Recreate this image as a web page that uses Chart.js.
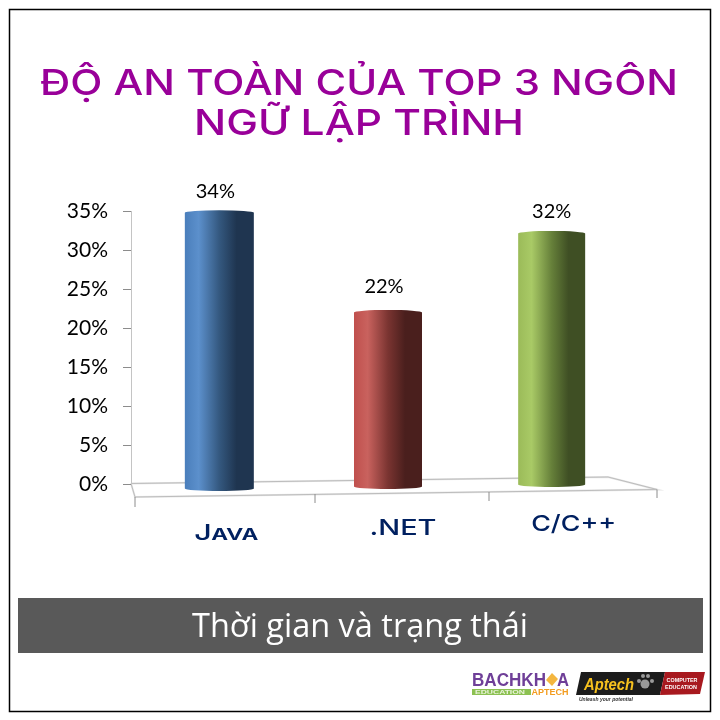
<!DOCTYPE html>
<html>
<head>
<meta charset="utf-8">
<script src="https://cdn.jsdelivr.net/npm/chart.js@4"></script>
<style>
  html, body { margin: 0; padding: 0; background: #fff; }
  canvas { display: block; }
</style>
</head>
<body>
<canvas id="chart" width="720" height="720"></canvas>
<script>
// Chart data
const categories = ["Java", ".NET", "C/C++"];
const safetyValues = [34, 22, 32];
const yTicks = [0, 5, 10, 15, 20, 25, 30, 35];
const titleLines = ["ĐỘ AN TOÀN CỦA TOP 3 NGÔN", "NGỮ LẬP TRÌNH"];
const bandText = "Thời gian và trạng thái";

// Perspective of the original 3D chart: how far each bar sits from its flat position
const barShiftX = [0, -8, -21];
const barShiftTop = [-6, 0, -1];
const barShiftBase = [5, 3, 1];
const barWidths = [69, 68, 67];
const valueLabelDx = [-4, -4, 0];
const valueLabelDy = [15, 19, 15];
const labelShiftX = [7, 7, 1];
const labelBaseline = [540, 535, 531];
const labelWidths = [64, 67, 85];
const barStops = [
    ["#4a7ebb", "#5c90cc", "#34587f", "#1f3550"],
    ["#c0504d", "#c9625e", "#7a3431", "#4a1f1d"],
    ["#9bbb59", "#a9ca66", "#66803a", "#3f4f24"]
];

function barGradient(ctx, center, width, stops) {
    const g = ctx.createLinearGradient(center - width / 2, 0, center + width / 2, 0);
    g.addColorStop(0, stops[0]);
    g.addColorStop(0.2, stops[1]);
    g.addColorStop(0.5, stops[2]);
    g.addColorStop(0.75, stops[3]);
    g.addColorStop(1, stops[3]);
    return g;
}

// Draw a line of text squeezed or stretched to an exact width
function stretchText(ctx, text, cx, baseline, width, font, color) {
    ctx.save();
    ctx.font = font;
    ctx.fillStyle = color;
    ctx.textAlign = "center";
    ctx.textBaseline = "alphabetic";
    const sx = width / ctx.measureText(text).width;
    ctx.translate(cx, baseline);
    ctx.scale(sx, 1);
    ctx.fillText(text, 0, 0);
    ctx.restore();
}

function drawLine(ctx, pts, color, lineWidth) {
    ctx.beginPath();
    ctx.moveTo(pts[0][0], pts[0][1]);
    for (let i = 1; i < pts.length; i++) ctx.lineTo(pts[i][0], pts[i][1]);
    ctx.strokeStyle = color;
    ctx.lineWidth = lineWidth || 1;
    ctx.stroke();
}

function drawLogos(ctx) {
    // Bachkhoa logo
    stretchText(ctx, "BACHKH", 509, 686, 74, "bold 18px 'Liberation Sans'", "#6f3f98");
    ctx.fillStyle = "#f4b63f";
    ctx.beginPath();
    ctx.moveTo(552, 673);
    ctx.lineTo(558, 679);
    ctx.lineTo(552, 686);
    ctx.lineTo(546, 680);
    ctx.closePath();
    ctx.fill();
    stretchText(ctx, "A", 563, 686, 12, "bold 18px 'Liberation Sans'", "#6f3f98");
    ctx.fillStyle = "#8cc152";
    ctx.fillRect(472, 689, 59, 6);
    stretchText(ctx, "EDUCATION", 500, 694, 50, "bold 5px 'Liberation Sans'", "#e8f3d8");
    stretchText(ctx, "APTECH", 550, 695, 37, "bold 9px 'Liberation Sans'", "#f39c1f");

    // Aptech logo
    ctx.fillStyle = "#1c1c1c";
    ctx.beginPath();
    ctx.moveTo(581, 672);
    ctx.lineTo(665, 672);
    ctx.lineTo(660, 695);
    ctx.lineTo(576, 695);
    ctx.closePath();
    ctx.fill();
    ctx.fillStyle = "#a8191f";
    ctx.beginPath();
    ctx.moveTo(665, 672);
    ctx.lineTo(705, 672);
    ctx.lineTo(700, 694);
    ctx.lineTo(660, 695);
    ctx.closePath();
    ctx.fill();
    stretchText(ctx, "Aptech", 609, 690, 50, "italic bold 17px 'Liberation Sans'", "#f7c11e");
    ctx.fillStyle = "#9a9a9a";
    [[645, 684, 4.5], [639, 681, 2], [643, 676, 2], [648, 676, 2], [652, 681, 2]].forEach(p => {
        ctx.beginPath();
        ctx.arc(p[0], p[1], p[2], 0, Math.PI * 2);
        ctx.fill();
    });
    stretchText(ctx, "COMPUTER", 682, 682, 31, "bold 6px 'Liberation Sans'", "#ffffff");
    stretchText(ctx, "EDUCATION", 681, 689, 32, "bold 6px 'Liberation Sans'", "#ffffff");
    stretchText(ctx, "Unleash your potential", 606, 701, 54, "italic bold 5px 'Liberation Sans'", "#333333");
}

const perspectiveBars = {
    id: "perspectiveBars",
    // move the bars the library placed to where the 3D view has them
    afterDatasetUpdate(chart) {
        const meta = chart.getDatasetMeta(0);
        meta.data.forEach((el, i) => {
            el.x += barShiftX[i];
            el.y += barShiftTop[i];
            el.base += barShiftBase[i];
            el.width = barWidths[i];
        });
    },
    beforeDraw(chart) {
        const ctx = chart.ctx;
        ctx.save();
        ctx.fillStyle = "#ffffff";
        ctx.fillRect(0, 0, 720, 720);
        ctx.strokeStyle = "#000000";
        ctx.lineWidth = 1.5;
        ctx.strokeRect(9.5, 9.5, 701, 702);

        // title
        stretchText(ctx, titleLines[0], 359, 95, 638, "500 36px Inter", "#990099");
        stretchText(ctx, titleLines[1], 359, 135, 330, "500 36px Inter", "#990099");

        // grey band
        ctx.fillStyle = "#595959";
        ctx.fillRect(18, 598, 685, 55);
        stretchText(ctx, bandText, 360, 637, 336, "32px 'Open Sans'", "#ffffff");

        drawLogos(ctx);

        // floor of the 3D chart
        const floor = [[131, 483.5], [608, 477], [657, 489.5], [135, 497], [131, 483.5]];
        drawLine(ctx, floor, "#e6e6e6", 2);
        drawLine(ctx, floor, "#bdbdbd", 1);
        drawLine(ctx, [[135, 497], [135, 507]], "#8c8c8c");
        drawLine(ctx, [[315, 494], [315, 503]], "#8c8c8c");
        drawLine(ctx, [[489, 492], [489, 501]], "#8c8c8c");
        drawLine(ctx, [[657, 489.5], [657, 498]], "#8c8c8c");
        ctx.restore();
    },
    afterDatasetsDraw(chart) {
        const ctx = chart.ctx;
        const meta = chart.getDatasetMeta(0);
        const xScale = chart.scales.x;
        ctx.save();
        meta.data.forEach((el, i) => {
            const fill = barGradient(ctx, el.x, el.width, barStops[i]);
            ctx.fillStyle = fill;
            // rounded top and bottom of the cylinder
            ctx.beginPath();
            ctx.ellipse(el.x, el.y, el.width / 2, 2.5, 0, 0, Math.PI * 2);
            ctx.fill();
            ctx.beginPath();
            ctx.ellipse(el.x, el.base, el.width / 2, 2.5, 0, 0, Math.PI * 2);
            ctx.fill();

            // value label above the bar
            ctx.font = "20px Lato, 'Noto Sans'";
            ctx.fillStyle = "#000000";
            ctx.textAlign = "center";
            ctx.textBaseline = "alphabetic";
            ctx.fillText(safetyValues[i] + "%", el.x + valueLabelDx[i], el.y - valueLabelDy[i]);

            // category label
            const lx = xScale.getPixelForValue(i) + labelShiftX[i];
            stretchText(ctx, categories[i], lx, labelBaseline[i], labelWidths[i],
                "small-caps 500 22px Inter", "#002060");
        });
        ctx.restore();
    }
};

new Chart(document.getElementById("chart"), {
    type: "bar",
    data: {
        labels: categories,
        datasets: [{
            data: safetyValues,
            borderWidth: 0,
            clip: false,
            backgroundColor: c => {
                const i = c.dataIndex;
                const center = i === undefined ? NaN : c.chart.scales.x.getPixelForValue(i) + barShiftX[i];
                // scales are not laid out yet on the first pass
                if (!isFinite(center)) return "#4a7ebb";
                return barGradient(c.chart.ctx, center, barWidths[i], barStops[i]);
            }
        }]
    },
    options: {
        responsive: false,
        animation: false,
        devicePixelRatio: 1,
        layout: { padding: { left: 0, top: 211, right: 59, bottom: 236 } },
        plugins: {
            legend: { display: false },
            title: { display: false },
            tooltip: { enabled: false }
        },
        scales: {
            x: {
                grid: { display: false },
                border: { display: false },
                ticks: { display: false },
                afterFit(s) { s.height = 0; }
            },
            y: {
                min: 0,
                max: 35,
                afterFit(s) { s.width = 131; },
                afterBuildTicks(s) { s.ticks = yTicks.map(v => ({ value: v })); },
                border: { color: "#c4c4c4" },
                grid: { drawOnChartArea: false, color: "#8c8c8c", tickLength: 8 },
                ticks: {
                    color: "#000000",
                    padding: 15,
                    font: { family: "Lato, 'Noto Sans'", size: 21 },
                    callback: v => v + "%"
                }
            }
        }
    },
    plugins: [perspectiveBars]
});
</script>
</body>
</html>
